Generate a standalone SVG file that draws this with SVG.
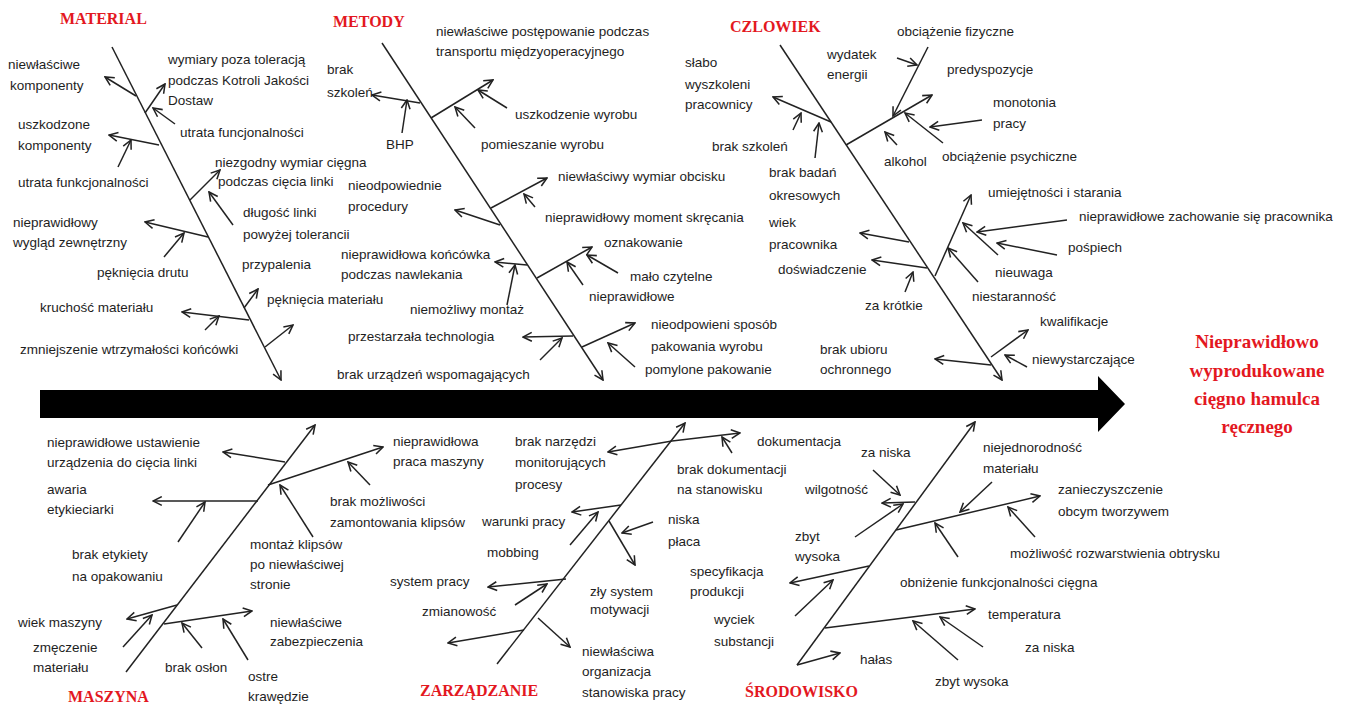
<svg xmlns="http://www.w3.org/2000/svg" width="1350" height="707" viewBox="0 0 1350 707">
<style>
.t{font-family:"Liberation Sans",Arial,sans-serif;font-size:13.5px;fill:#1e1e1e}
.c{font-family:"Liberation Serif","Times New Roman",serif;font-size:16px;font-weight:bold;fill:#e3181f}
.h{font-family:"Liberation Serif","Times New Roman",serif;font-size:19px;font-weight:bold;fill:#e3181f;text-anchor:middle}
line{stroke:#222;stroke-width:1.5;marker-end:url(#a)}
</style>
<defs>
<marker id="a" viewBox="0 0 10 10" refX="9" refY="5" markerWidth="11" markerHeight="11" markerUnits="userSpaceOnUse" orient="auto">
<path d="M1,1 L9,5 L1,9" fill="none" stroke="#222" stroke-width="1.4"/>
</marker>
</defs>
<rect width="1350" height="707" fill="#fff"/>
<g id="effect">
<polygon points="40,390 1098,390 1098,376 1125,404 1098,432 1098,418 40,418" fill="#000"/>
<text class="h" x="1257" y="348">Nieprawidłowo</text>
<text class="h" x="1257" y="377">wyprodukowane</text>
<text class="h" x="1257" y="405">cięgno hamulca</text>
<text class="h" x="1257" y="433">ręcznego</text>
</g>
<g id="connectors">
<!-- MATERIAL -->
<line x1="112" y1="47" x2="281" y2="380"/>
<line x1="136" y1="96" x2="105" y2="77"/>
<line x1="145" y1="113" x2="165" y2="84"/>
<line x1="175" y1="124" x2="153" y2="108"/>
<line x1="159" y1="145" x2="109" y2="135"/>
<line x1="118" y1="167" x2="131" y2="140"/>
<line x1="190" y1="200" x2="220" y2="170"/>
<line x1="233" y1="225" x2="209" y2="192"/>
<line x1="208" y1="237" x2="145" y2="222"/>
<line x1="164" y1="257" x2="184" y2="233"/>
<line x1="244" y1="308" x2="258" y2="289"/>
<line x1="249" y1="320" x2="182" y2="312"/>
<line x1="205" y1="330" x2="219" y2="316"/>
<line x1="265" y1="347" x2="293" y2="325"/>
<!-- METODY -->
<line x1="382" y1="43" x2="603" y2="380"/>
<line x1="420" y1="103" x2="372" y2="95"/>
<line x1="402" y1="133" x2="407" y2="100"/>
<line x1="431" y1="118" x2="493" y2="80"/>
<line x1="507" y1="108" x2="478" y2="90"/>
<line x1="475" y1="128" x2="455" y2="107"/>
<line x1="491" y1="208" x2="547" y2="178"/>
<line x1="535" y1="207" x2="524" y2="194"/>
<line x1="500" y1="225" x2="455" y2="210"/>
<line x1="527" y1="265" x2="495" y2="262"/>
<line x1="507" y1="305" x2="515" y2="265"/>
<line x1="537" y1="278" x2="592" y2="247"/>
<line x1="618" y1="273" x2="587" y2="255"/>
<line x1="583" y1="285" x2="567" y2="262"/>
<line x1="573" y1="336" x2="523" y2="337"/>
<line x1="540" y1="360" x2="562" y2="338"/>
<line x1="582" y1="347" x2="635" y2="323"/>
<line x1="635" y1="367" x2="608" y2="343"/>
<!-- CZLOWIEK -->
<line x1="780" y1="45" x2="1002" y2="380"/>
<line x1="831" y1="122" x2="773" y2="97"/>
<line x1="793" y1="130" x2="801" y2="113"/>
<line x1="815" y1="158" x2="819" y2="123"/>
<line x1="846" y1="145" x2="932" y2="95"/>
<line x1="928" y1="47" x2="893" y2="116"/>
<line x1="897" y1="58" x2="917" y2="65"/>
<line x1="982" y1="120" x2="930" y2="127"/>
<line x1="943" y1="143" x2="905" y2="113"/>
<line x1="897" y1="145" x2="885" y2="132"/>
<line x1="909" y1="242" x2="860" y2="233"/>
<line x1="927" y1="268" x2="872" y2="260"/>
<line x1="905" y1="292" x2="913" y2="272"/>
<line x1="935" y1="276" x2="971" y2="195"/>
<line x1="1067" y1="220" x2="977" y2="232"/>
<line x1="1057" y1="255" x2="997" y2="243"/>
<line x1="998" y1="255" x2="963" y2="223"/>
<line x1="978" y1="282" x2="948" y2="248"/>
<line x1="991" y1="357" x2="1028" y2="330"/>
<line x1="1027" y1="367" x2="1005" y2="355"/>
<line x1="991" y1="365" x2="935" y2="359"/>
<!-- MASZYNA -->
<line x1="126" y1="672" x2="315" y2="425"/>
<line x1="285" y1="462" x2="223" y2="452"/>
<line x1="268" y1="485" x2="383" y2="447"/>
<line x1="370" y1="485" x2="348" y2="462"/>
<line x1="313" y1="537" x2="280" y2="485"/>
<line x1="258" y1="501" x2="153" y2="501"/>
<line x1="178" y1="542" x2="205" y2="502"/>
<line x1="177" y1="605" x2="127" y2="619"/>
<line x1="123" y1="647" x2="152" y2="615"/>
<line x1="164" y1="624" x2="252" y2="611"/>
<line x1="202" y1="648" x2="182" y2="623"/>
<line x1="248" y1="660" x2="223" y2="619"/>
<!-- ZARZADZANIE -->
<line x1="497" y1="664" x2="685" y2="423"/>
<line x1="672" y1="441" x2="608" y2="452"/>
<line x1="672" y1="441" x2="740" y2="433"/>
<line x1="732" y1="453" x2="722" y2="437"/>
<line x1="621" y1="505" x2="572" y2="512"/>
<line x1="570" y1="545" x2="598" y2="512"/>
<line x1="609" y1="521" x2="635" y2="565"/>
<line x1="653" y1="522" x2="622" y2="533"/>
<line x1="566" y1="579" x2="488" y2="587"/>
<line x1="515" y1="605" x2="547" y2="584"/>
<line x1="524" y1="630" x2="448" y2="643"/>
<line x1="538" y1="618" x2="570" y2="647"/>
<!-- SRODOWISKO -->
<line x1="797" y1="665" x2="975" y2="422"/>
<line x1="915" y1="502" x2="882" y2="503"/>
<line x1="873" y1="470" x2="900" y2="495"/>
<line x1="855" y1="537" x2="903" y2="504"/>
<line x1="896" y1="530" x2="1040" y2="496"/>
<line x1="992" y1="482" x2="960" y2="512"/>
<line x1="1035" y1="537" x2="1008" y2="507"/>
<line x1="958" y1="557" x2="935" y2="523"/>
<line x1="869" y1="566" x2="790" y2="583"/>
<line x1="795" y1="616" x2="833" y2="580"/>
<line x1="825" y1="628" x2="975" y2="609"/>
<line x1="983" y1="647" x2="940" y2="617"/>
<line x1="958" y1="660" x2="913" y2="621"/>
<line x1="797" y1="665" x2="840" y2="653"/>
</g>
<g id="material">
<text class="c" x="60" y="24">MATERIAL</text>
<text class="t" x="8" y="69">niewłaściwe</text>
<text class="t" x="10" y="90">komponenty</text>
<text class="t" x="168" y="64">wymiary poza toleracją</text>
<text class="t" x="168" y="85">podczas Kotroli Jakości</text>
<text class="t" x="168" y="105">Dostaw</text>
<text class="t" x="180" y="137">utrata funcjonalności</text>
<text class="t" x="18" y="129">uszkodzone</text>
<text class="t" x="18" y="150">komponenty</text>
<text class="t" x="18" y="187">utrata funkcjonalności</text>
<text class="t" x="215" y="167">niezgodny wymiar cięgna</text>
<text class="t" x="218" y="186">podczas cięcia linki</text>
<text class="t" x="243" y="217">długość linki</text>
<text class="t" x="243" y="239">powyżej tolerancii</text>
<text class="t" x="13" y="227">nieprawidłowy</text>
<text class="t" x="13" y="247">wygląd zewnętrzny</text>
<text class="t" x="97" y="277">pęknięcia drutu</text>
<text class="t" x="242" y="269">przypalenia</text>
<text class="t" x="40" y="312">kruchość materiału</text>
<text class="t" x="267" y="304">pęknięcia materiału</text>
<text class="t" x="20" y="354">zmniejszenie wtrzymałości końcówki</text>
</g>
<g id="metody">
<text class="c" x="333" y="27">METODY</text>
<text class="t" x="436" y="36">niewłaściwe postępowanie podczas</text>
<text class="t" x="436" y="56">transportu międzyoperacyjnego</text>
<text class="t" x="327" y="74">brak</text>
<text class="t" x="327" y="97">szkoleń</text>
<text class="t" x="386" y="149">BHP</text>
<text class="t" x="515" y="119">uszkodzenie wyrobu</text>
<text class="t" x="481" y="149">pomieszanie wyrobu</text>
<text class="t" x="348" y="190">nieodpowiednie</text>
<text class="t" x="348" y="211">procedury</text>
<text class="t" x="558" y="181">niewłaściwy wymiar obcisku</text>
<text class="t" x="545" y="222">nieprawidłowy moment skręcania</text>
<text class="t" x="341" y="259">nieprawidłowa końcówka</text>
<text class="t" x="341" y="279">podczas nawlekania</text>
<text class="t" x="604" y="247">oznakowanie</text>
<text class="t" x="630" y="281">mało czytelne</text>
<text class="t" x="589" y="301">nieprawidłowe</text>
<text class="t" x="410" y="314">niemożliwy montaż</text>
<text class="t" x="348" y="341">przestarzała technologia</text>
<text class="t" x="337" y="379">brak urządzeń wspomagających</text>
<text class="t" x="651" y="329">nieodpowieni sposób</text>
<text class="t" x="651" y="351">pakowania wyrobu</text>
<text class="t" x="645" y="374">pomylone pakowanie</text>
</g>
<g id="czlowiek">
<text class="c" x="730" y="32">CZLOWIEK</text>
<text class="t" x="897" y="36">obciążenie fizyczne</text>
<text class="t" x="827" y="59">wydatek</text>
<text class="t" x="827" y="79">energii</text>
<text class="t" x="685" y="67">słabo</text>
<text class="t" x="685" y="89">wyszkoleni</text>
<text class="t" x="685" y="109">pracownicy</text>
<text class="t" x="947" y="74">predyspozycje</text>
<text class="t" x="993" y="107">monotonia</text>
<text class="t" x="993" y="128">pracy</text>
<text class="t" x="712" y="151">brak szkoleń</text>
<text class="t" x="884" y="166">alkohol</text>
<text class="t" x="942" y="161">obciążenie psychiczne</text>
<text class="t" x="769" y="177">brak badań</text>
<text class="t" x="769" y="200">okresowych</text>
<text class="t" x="769" y="227">wiek</text>
<text class="t" x="769" y="249">pracownika</text>
<text class="t" x="778" y="274">doświadczenie</text>
<text class="t" x="865" y="310">za krótkie</text>
<text class="t" x="988" y="197">umiejętności i starania</text>
<text class="t" x="1079" y="221">nieprawidłowe zachowanie się pracownika</text>
<text class="t" x="1068" y="252">pośpiech</text>
<text class="t" x="995" y="277">nieuwaga</text>
<text class="t" x="972" y="301">niestaranność</text>
<text class="t" x="1040" y="326">kwalifikacje</text>
<text class="t" x="1032" y="364">niewystarczające</text>
<text class="t" x="820" y="354">brak ubioru</text>
<text class="t" x="820" y="374">ochronnego</text>
</g>
<g id="maszyna">
<text class="c" x="68" y="702">MASZYNA</text>
<text class="t" x="47" y="447">nieprawidłowe ustawienie</text>
<text class="t" x="47" y="467">urządzenia do cięcia linki</text>
<text class="t" x="47" y="494">awaria</text>
<text class="t" x="47" y="514">etykieciarki</text>
<text class="t" x="72" y="559">brak etykiety</text>
<text class="t" x="72" y="581">na opakowaniu</text>
<text class="t" x="250" y="549">montaż klipsów</text>
<text class="t" x="250" y="569">po niewłaściwej</text>
<text class="t" x="250" y="589">stronie</text>
<text class="t" x="18" y="627">wiek maszyny</text>
<text class="t" x="33" y="652">zmęczenie</text>
<text class="t" x="33" y="672">materiału</text>
<text class="t" x="165" y="672">brak osłon</text>
<text class="t" x="248" y="681">ostre</text>
<text class="t" x="248" y="701">krawędzie</text>
<text class="t" x="270" y="627">niewłaściwe</text>
<text class="t" x="270" y="646">zabezpieczenia</text>
<text class="t" x="393" y="446">nieprawidłowa</text>
<text class="t" x="393" y="466">praca maszyny</text>
<text class="t" x="330" y="506">brak możliwości</text>
<text class="t" x="330" y="527">zamontowania klipsów</text>
</g>
<g id="zarzadzanie">
<text class="c" x="420" y="696">ZARZĄDZANIE</text>
<text class="t" x="515" y="446">brak narzędzi</text>
<text class="t" x="515" y="467">monitorujących</text>
<text class="t" x="515" y="489">procesy</text>
<text class="t" x="757" y="446">dokumentacja</text>
<text class="t" x="677" y="474">brak dokumentacji</text>
<text class="t" x="677" y="494">na stanowisku</text>
<text class="t" x="482" y="526">warunki pracy</text>
<text class="t" x="487" y="557">mobbing</text>
<text class="t" x="668" y="524">niska</text>
<text class="t" x="668" y="546">płaca</text>
<text class="t" x="390" y="586">system pracy</text>
<text class="t" x="422" y="616">zmianowość</text>
<text class="t" x="590" y="596">zły system</text>
<text class="t" x="590" y="614">motywacji</text>
<text class="t" x="582" y="656">niewłaściwa</text>
<text class="t" x="582" y="676">organizacja</text>
<text class="t" x="582" y="697">stanowiska pracy</text>
</g>
<g id="srodowisko">
<text class="c" x="745" y="697">ŚRODOWISKO</text>
<text class="t" x="861" y="457">za niska</text>
<text class="t" x="983" y="452">niejednorodność</text>
<text class="t" x="983" y="473">materiału</text>
<text class="t" x="805" y="494">wilgotność</text>
<text class="t" x="1058" y="494">zanieczyszczenie</text>
<text class="t" x="1058" y="516">obcym tworzywem</text>
<text class="t" x="1010" y="558">możliwość rozwarstwienia obtrysku</text>
<text class="t" x="795" y="541">zbyt</text>
<text class="t" x="795" y="561">wysoka</text>
<text class="t" x="690" y="576">specyfikacja</text>
<text class="t" x="690" y="596">produkcji</text>
<text class="t" x="900" y="587">obniżenie funkcjonalności cięgna</text>
<text class="t" x="988" y="619">temperatura</text>
<text class="t" x="1025" y="652">za niska</text>
<text class="t" x="935" y="686">zbyt wysoka</text>
<text class="t" x="714" y="624">wyciek</text>
<text class="t" x="714" y="646">substancji</text>
<text class="t" x="860" y="664">hałas</text>
</g>
</svg>
